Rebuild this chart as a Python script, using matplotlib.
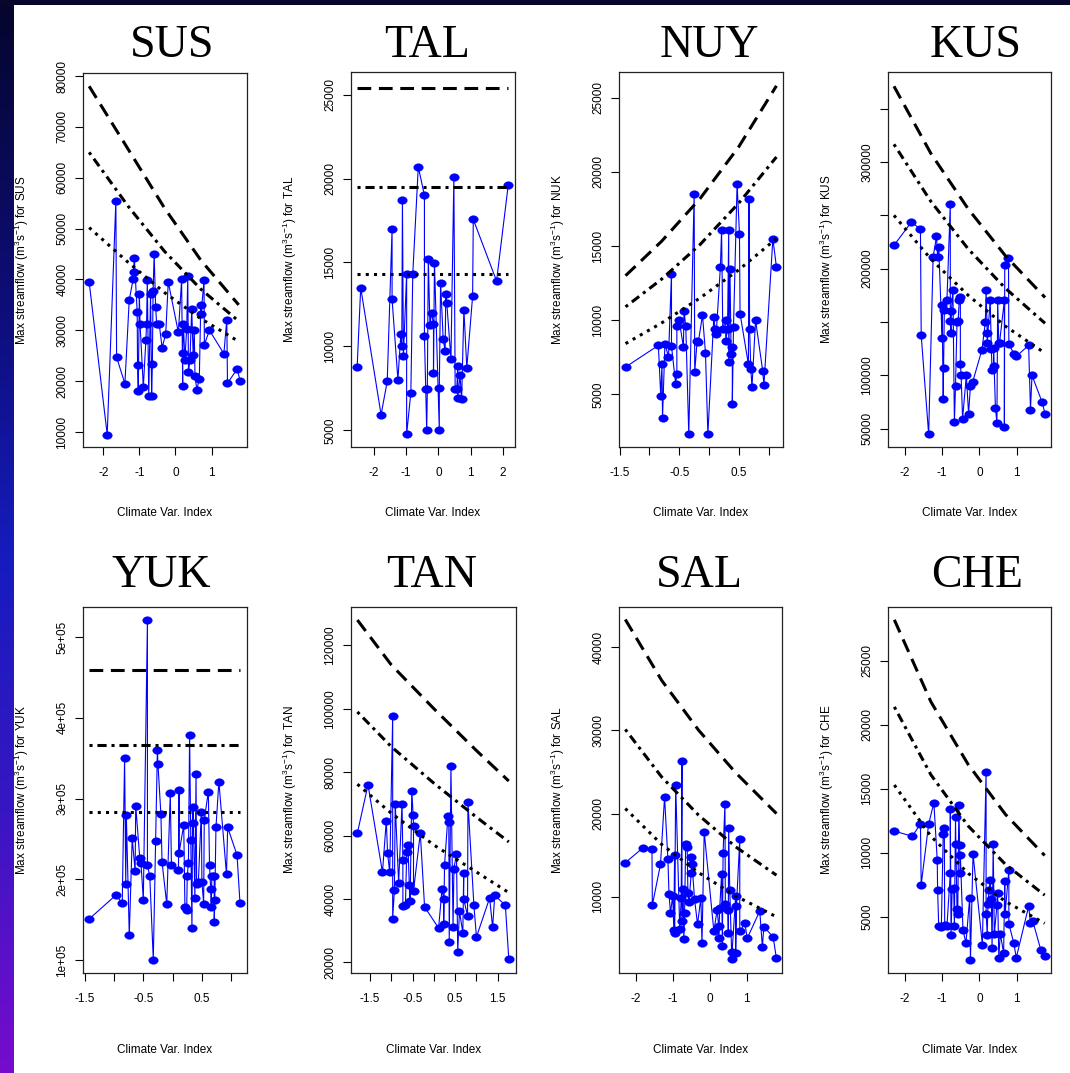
import numpy as np
import matplotlib
matplotlib.use("Agg")
import matplotlib.pyplot as plt
from matplotlib.path import Path
from matplotlib.transforms import Affine2D
from matplotlib.patches import Rectangle

plt.rcParams['font.family'] = ['Liberation Sans', 'DejaVu Sans']
plt.rcParams['mathtext.default'] = 'regular'

# ---------------- data ----------------
sus_x = [-2.39, -1.89, -1.65, -1.63, -1.40, -1.28, -1.17, -1.16, -1.14, -1.06, -1.05, -1.03, -1.00, -0.98,
         -0.89, -0.82, -0.80, -0.78, -0.74, -0.69, -0.66, -0.64, -0.62, -0.59, -0.55, -0.52, -0.45, -0.37,
         -0.27, -0.20, 0.08, 0.17, 0.20, 0.20, 0.22, 0.26, 0.31, 0.34, 0.36, 0.40, 0.45, 0.49, 0.52, 0.54,
         0.59, 0.66, 0.70, 0.71, 0.79, 0.80, 0.94, 1.34, 1.42, 1.44, 1.71, 1.79]
sus_y = [39500, 9500, 55500, 24700, 19500, 36000, 40100, 41400, 44300, 33600, 23100, 18100, 37200, 31200,
         18800, 28000, 31200, 39800, 17000, 37200, 17000, 23400, 37800, 45000, 34600, 31200, 31200, 26600,
         29300, 39500, 29600, 40000, 19000, 25500, 31300, 24100, 30300, 40600, 21800, 24100, 34200, 25100,
         30000, 21100, 18300, 20500, 34900, 33300, 39800, 27200, 30000, 25400, 32100, 19600, 22400, 20000]
sus_cx = [-2.39, -1.3, -0.3, 0.7, 1.75]
sus_dash = [78000, 65500, 54000, 43800, 35000]
sus_dotdash = [65000, 54300, 45500, 38100, 31800]
sus_dot = [50200, 43300, 37400, 32300, 27800]

tal_x = [-2.51, -2.40, -1.77, -1.58, -1.43, -1.43, -1.25, -1.16, -1.13, -1.11, -1.08, -0.98, -0.98, -0.85,
         -0.79, -0.62, -0.43, -0.43, -0.39, -0.36, -0.34, -0.31, -0.26, -0.21, -0.15, -0.15, -0.12, 0.03,
         0.03, 0.07, 0.15, 0.21, 0.23, 0.26, 0.39, 0.48, 0.52, 0.57, 0.60, 0.60, 0.67, 0.72, 0.79, 0.88,
         1.06, 1.08, 1.80, 2.16]
tal_y = [8770, 13500, 5930, 7920, 17020, 12800, 8020, 10720, 10020, 18700, 9430, 14330, 4760, 7240,
         14330, 20700, 19000, 10620, 7480, 5000, 7440, 15230, 11260, 12010, 11360, 8420, 14990, 5000,
         7540, 13800, 10420, 9730, 13100, 12600, 9230, 20090, 7440, 7440, 8830, 6930, 8280, 6850, 12190,
         8730, 13000, 17570, 13900, 19600]
tal_cx = [-2.51, 2.16]
tal_dash = [25400, 25400]
tal_dotdash = [19500, 19500]
tal_dot = [14330, 14330]

nuy_x = [-1.40, -0.85, -0.81, -0.79, -0.78, -0.74, -0.68, -0.63, -0.63, -0.56, -0.54, -0.54, -0.50, -0.43,
         -0.42, -0.39, -0.34, -0.25, -0.24, -0.20, -0.18, -0.11, -0.06, -0.02, 0.08, 0.10, 0.12, 0.19,
         0.21, 0.23, 0.28, 0.28, 0.31, 0.33, 0.33, 0.35, 0.37, 0.39, 0.39, 0.41, 0.47, 0.51, 0.52, 0.66,
         0.67, 0.68, 0.70, 0.72, 0.78, 0.90, 0.92, 1.07, 1.13]
nuy_y = [6840, 8300, 4890, 7020, 3430, 8420, 7520, 13130, 8240, 5720, 6390, 9580, 9990, 8190,
         10620, 9580, 2300, 18530, 6510, 8600, 8530, 10330, 7810, 2300, 10210, 9430, 9090, 13580,
         16050, 9430, 9990, 8600, 9430, 16050, 7180, 13470, 7740, 8190, 4370, 9540, 19200, 15830, 10440, 7020,
         18190, 9430, 6730, 5490, 10000, 6570, 5610, 15490, 13580]
nuy_cx = [-1.40, -0.8, -0.15, 0.5, 1.13]
nuy_dash = [13000, 15300, 18200, 21700, 25800]
nuy_dotdash = [10900, 12750, 15100, 17900, 21000]
nuy_dot = [8420, 9800, 11500, 13400, 15500]

kus_x = [-2.29, -1.82, -1.58, -1.56, -1.36, -1.24, -1.15, -1.12, -1.09, -1.00, -1.00, -0.97, -0.96, -0.94,
         -0.87, -0.78, -0.78, -0.76, -0.75, -0.71, -0.67, -0.64, -0.60, -0.57, -0.54, -0.51, -0.51, -0.49,
         -0.45, -0.35, -0.29, -0.24, -0.18, 0.07, 0.16, 0.18, 0.21, 0.21, 0.29, 0.32, 0.34, 0.38, 0.38,
         0.43, 0.47, 0.49, 0.52, 0.54, 0.67, 0.67, 0.68, 0.78, 0.79, 0.92, 0.99, 1.32, 1.37, 1.41, 1.68, 1.76]
kus_y = [221900, 243800, 236900, 137500, 44700, 210900, 230300, 210900, 220300, 135000, 165600, 78100, 106900, 160900,
         170300, 260300, 150600, 140000, 160300, 180300, 56300, 90000, 150000, 150600, 170300, 173400, 110300, 100000,
         59400, 100000, 64100, 90000, 93800, 124100, 150000, 180300, 140000, 130300, 170300, 125000, 105300, 108800, 125600,
         69700, 55600, 170300, 130300, 130300, 170300, 51600, 203800, 210300, 129700, 120300, 117800, 128100, 67800, 100000,
         75000, 64100]
kus_cx = [-2.29, -1.3, -0.3, 0.7, 1.76]
kus_dash = [371000, 308000, 256000, 212000, 173000]
kus_dotdash = [316600, 263000, 218500, 181500, 148800]
kus_dot = [250000, 209000, 175000, 146000, 120800]

yuk_x = [-1.43, -0.97, -0.86, -0.82, -0.80, -0.79, -0.74, -0.69, -0.64, -0.63, -0.56, -0.54, -0.50, -0.43,
         -0.43, -0.39, -0.33, -0.29, -0.26, -0.25, -0.20, -0.18, -0.10, -0.04, -0.02, 0.10, 0.11, 0.11,
         0.19, 0.21, 0.24, 0.25, 0.27, 0.29, 0.31, 0.33, 0.34, 0.35, 0.38, 0.40, 0.41, 0.44, 0.49, 0.50,
         0.53, 0.54, 0.61, 0.63, 0.65, 0.66, 0.67, 0.71, 0.71, 0.72, 0.74, 0.79, 0.92, 0.94, 1.10, 1.15]
yuk_y = [150800, 180600, 171100, 350000, 195000, 279700, 131000, 250800, 210700, 291300, 226000, 219800, 175200, 520600,
         217800, 204100, 100800, 247900, 360300, 342500, 280600, 221100, 169400, 306600, 217800, 211600, 310700, 233000,
         267400, 166100, 162000, 204500, 219800, 378900, 248700, 140500, 269400, 290100, 177300, 330600, 195000, 197100,
         283900, 197100, 170200, 273500, 308700, 217800, 188800, 166100, 204500, 204500, 147500, 174400, 264500, 321100,
         206200, 264500, 230200, 171100]
yuk_cx = [-1.43, 1.15]
yuk_dash = [459500, 459500]
yuk_dotdash = [366500, 366500]
yuk_dot = [283900, 283900]

tan_x = [-1.80, -1.55, -1.21, -1.12, -1.09, -1.04, -0.97, -0.97, -0.93, -0.91, -0.83, -0.75, -0.73, -0.73,
         -0.67, -0.64, -0.61, -0.58, -0.56, -0.52, -0.49, -0.48, -0.48, -0.32, -0.22, 0.11, 0.19, 0.23,
         0.23, 0.25, 0.33, 0.35, 0.36, 0.40, 0.45, 0.47, 0.53, 0.56, 0.60, 0.68, 0.70, 0.70, 0.79, 0.80,
         0.94, 1.00, 1.31, 1.38, 1.43, 1.68, 1.76]
tan_y = [60800, 76000, 48400, 64700, 54500, 48400, 97800, 33800, 42700, 70100, 45000, 70100, 52400, 37700,
         38000, 54700, 57100, 44500, 39200, 74200, 66600, 63100, 42600, 60800, 37500, 30800, 43100, 40000,
         32100, 50800, 66100, 64200, 26400, 81800, 31000, 49500, 54300, 23300, 36100, 29300, 48200, 40000,
         34700, 70600, 38000, 28000, 40300, 31000, 41100, 38000, 21100]
tan_cx = [-1.80, -1.0, 0.0, 1.0, 1.76]
tan_dash = [128000, 113800, 100000, 86800, 77200]
tan_dotdash = [99000, 88000, 76500, 65800, 58000]
tan_dot = [76200, 67000, 57000, 48500, 42000]

sal_x = [-2.28, -1.80, -1.56, -1.55, -1.33, -1.22, -1.13, -1.10, -1.06, -1.00, -0.97, -0.95, -0.95, -0.92,
         -0.81, -0.77, -0.75, -0.75, -0.72, -0.70, -0.68, -0.65, -0.61, -0.59, -0.56, -0.50, -0.50, -0.48,
         -0.41, -0.33, -0.24, -0.21, -0.15, 0.11, 0.20, 0.24, 0.24, 0.27, 0.32, 0.34, 0.36, 0.41, 0.42,
         0.49, 0.50, 0.51, 0.54, 0.59, 0.59, 0.70, 0.70, 0.72, 0.81, 0.81, 0.95, 1.01, 1.35, 1.42, 1.46,
         1.71, 1.80]
sal_y = [14100, 15900, 15700, 9000, 13900, 22000, 14500, 10300, 8100, 10100, 6000, 15000, 5700, 23400,
         6100, 9900, 26300, 7100, 10900, 4900, 8000, 16400, 16000, 10500, 9400, 12900, 14800, 14000,
         9700, 6700, 9900, 4400, 17800, 5900, 8400, 6500, 5000, 8700, 12800, 4100, 15300, 21200, 9100,
         8400, 5700, 18300, 10800, 3400, 2500, 10100, 3300, 8900, 16900, 5900, 6800, 5000, 8300, 4000, 6400,
         5200, 2600]
sal_cx = [-2.28, -1.3, -0.3, 0.7, 1.80]
sal_dash = [43300, 36000, 30000, 24900, 20000]
sal_dotdash = [30100, 24400, 19800, 16000, 12600]
sal_dot = [20600, 16300, 12900, 10100, 7600]

che_x = [-2.28, -1.80, -1.58, -1.56, -1.36, -1.22, -1.13, -1.12, -1.09, -1.02, -0.97, -0.94, -0.93, -0.87,
         -0.78, -0.78, -0.76, -0.73, -0.69, -0.67, -0.64, -0.63, -0.60, -0.58, -0.55, -0.53, -0.51, -0.51,
         -0.44, -0.36, -0.26, -0.24, -0.17, 0.08, 0.18, 0.18, 0.21, 0.23, 0.26, 0.29, 0.32, 0.34, 0.37,
         0.40, 0.47, 0.49, 0.52, 0.56, 0.65, 0.68, 0.69, 0.79, 0.79, 0.92, 0.99, 1.32, 1.37, 1.43, 1.65, 1.75]
che_y = [11700, 11300, 12250, 7530, 12250, 13920, 9430, 7090, 4270, 4220, 11440, 11960, 4400, 4270,
         8390, 13400, 3570, 7160, 7270, 4270, 12770, 10660, 5600, 5260, 13740, 10600, 8390, 9820,
         3960, 2970, 6510, 1660, 9900, 2830, 16340, 5260, 3620, 5990, 7090, 7870, 6430, 2570, 10660,
         3640, 5910, 6830, 1790, 3700, 2180, 7820, 5260, 8650, 4480, 2970, 1820, 5830, 4560, 4690, 2390, 1920]
che_cx = [-2.28, -1.3, -0.3, 0.7, 1.75]
che_dash = [28200, 21800, 16900, 13000, 9800]
che_dotdash = [21400, 16100, 12100, 9100, 6700]
che_dot = [15300, 11300, 8400, 6200, 4500]

titles = ["SUS", "TAL", "NUY", "KUS", "YUK", "TAN", "SAL", "CHE"]
ylab_names = ["SUS", "TAL", "NUK", "KUS", "YUK", "TAN", "SAL", "CHE"]

# ---------------- figure ----------------
W, H = 1070, 1073
fig = plt.figure(figsize=(W / 100, H / 100), dpi=100)
fig.patch.set_facecolor('white')

# slide decoration: left gradient band and top band
gax = fig.add_axes([0, 0, 14 / W, 1])
stops_y = np.array([0.0, 0.3, 0.52, 0.75, 1.0])
stops_c = np.array([[5, 5, 45], [14, 14, 125], [22, 28, 190], [55, 22, 195], [118, 12, 205]]) / 255.0
yy = np.linspace(0, 1, 400)
grad = np.stack([np.interp(yy, stops_y, stops_c[:, k]) for k in range(3)], axis=1)[:, None, :]
gax.imshow(grad, aspect='auto', extent=[0, 1, 1, 0])
gax.set_axis_off()
fig.add_artist(Rectangle((0, 1 - 5 / H), 1, 5 / H, transform=fig.transFigure,
                         facecolor='#07072c', edgecolor='none'))

ell = Path.unit_circle().transformed(Affine2D().scale(1.0, 0.8))
LW = 2.2
dash_ls = (0, (4.5, 2.5))
dotdash_ls = (0, (1.0, 1.6, 3.0, 1.6))
dot_ls = (0, (1.0, 1.7))

panels = [
    dict(x=sus_x, y=sus_y, cx=sus_cx, d=sus_dash, dd=sus_dotdash, dt=sus_dot,
         xlim=(-2.56, 1.98), ylim=(7050, 80600),
         xt=[-2, -1, 0, 1], xtl=['-2', '-1', '0', '1'],
         yt=[10000, 20000, 30000, 40000, 50000, 60000, 70000, 80000],
         ytl=['10000', '20000', '30000', '40000', '50000', '60000', '70000', '80000'],
         box=(83, 247, 73, 447), tx=172, ty=57),
    dict(x=tal_x, y=tal_y, cx=tal_cx, d=tal_dash, dd=tal_dotdash, dt=tal_dot,
         xlim=(-2.70, 2.37), ylim=(4007, 26350),
         xt=[-2, -1, 0, 1, 2], xtl=['-2', '-1', '0', '1', '2'],
         yt=[5000, 10000, 15000, 20000, 25000], ytl=['5000', '10000', '15000', '20000', '25000'],
         box=(351, 515, 72, 447), tx=427, ty=57),
    dict(x=nuy_x, y=nuy_y, cx=nuy_cx, d=nuy_dash, dd=nuy_dotdash, dt=nuy_dot,
         xlim=(-1.51, 1.24), ylim=(1450, 26730),
         xt=[-1.5, -1.0, -0.5, 0.0, 0.5, 1.0], xtl=['-1.5', '', '-0.5', '', '0.5', ''],
         yt=[5000, 10000, 15000, 20000, 25000], ytl=['5000', '10000', '15000', '20000', '25000'],
         box=(619, 783, 72, 447), tx=709, ty=57),
    dict(x=kus_x, y=kus_y, cx=kus_cx, d=kus_dash, dd=kus_dotdash, dt=kus_dot,
         xlim=(-2.45, 1.92), ylim=(32800, 384400),
         xt=[-2, -1, 0, 1], xtl=['-2', '-1', '0', '1'],
         yt=[50000, 100000, 150000, 200000, 250000, 300000, 350000],
         ytl=['50000', '100000', '', '200000', '', '300000', ''],
         box=(888, 1051, 72, 447), tx=976, ty=57),
    dict(x=yuk_x, y=yuk_y, cx=yuk_cx, d=yuk_dash, dd=yuk_dotdash, dt=yuk_dot,
         xlim=(-1.53, 1.27), ylim=(84300, 537200),
         xt=[-1.5, -1.0, -0.5, 0.0, 0.5, 1.0], xtl=['-1.5', '', '-0.5', '', '0.5', ''],
         yt=[100000, 200000, 300000, 400000, 500000],
         ytl=['1e+05', '2e+05', '3e+05', '4e+05', '5e+05'],
         box=(83, 247, 607, 973), tx=161, ty=587),
    dict(x=tan_x, y=tan_y, cx=tan_cx, d=tan_dash, dd=tan_dotdash, dt=tan_dot,
         xlim=(-1.95, 1.93), ylim=(16640, 132100),
         xt=[-1.5, -1.0, -0.5, 0.0, 0.5, 1.0, 1.5], xtl=['-1.5', '', '-0.5', '', '0.5', '', '1.5'],
         yt=[20000, 40000, 60000, 80000, 100000, 120000],
         ytl=['20000', '40000', '60000', '80000', '100000', '120000'],
         box=(351, 516, 607, 973), tx=432, ty=587),
    dict(x=sal_x, y=sal_y, cx=sal_cx, d=sal_dash, dd=sal_dotdash, dt=sal_dot,
         xlim=(-2.45, 1.95), ylim=(854, 44800),
         xt=[-2, -1, 0, 1], xtl=['-2', '-1', '0', '1'],
         yt=[10000, 20000, 30000, 40000], ytl=['10000', '20000', '30000', '40000'],
         box=(619, 782, 607, 973), tx=699, ty=587),
    dict(x=che_x, y=che_y, cx=che_cx, d=che_dash, dd=che_dotdash, dt=che_dot,
         xlim=(-2.45, 1.92), ylim=(620, 29200),
         xt=[-2, -1, 0, 1], xtl=['-2', '-1', '0', '1'],
         yt=[5000, 10000, 15000, 20000, 25000], ytl=['5000', '10000', '15000', '20000', '25000'],
         box=(888, 1051, 607, 973), tx=977, ty=587),
]

TICKFS = 8.5
for i, p in enumerate(panels):
    l, r, t, b = p['box']
    ax = fig.add_axes([l / W, 1 - b / H, (r - l) / W, (b - t) / H])
    ax.plot(p['x'], p['y'], color='#0000ff', lw=0.8, zorder=2)
    ax.plot(p['x'], p['y'], linestyle='none', marker=ell, markersize=7.0,
            markerfacecolor='#0000ff', markeredgecolor='#0000ff', markeredgewidth=0.2, zorder=3)
    ax.plot(p['cx'], p['d'], color='black', lw=LW, linestyle=dash_ls, zorder=4)
    ax.plot(p['cx'], p['dd'], color='black', lw=LW, linestyle=dotdash_ls, zorder=4)
    ax.plot(p['cx'], p['dt'], color='black', lw=LW, linestyle=dot_ls, zorder=4)
    ax.set_xlim(*p['xlim'])
    ax.set_ylim(*p['ylim'])
    ax.set_xticks(p['xt'])
    ax.set_xticklabels(p['xtl'], fontsize=TICKFS)
    ax.set_yticks(p['yt'])
    ax.set_yticklabels(p['ytl'], fontsize=TICKFS, rotation=90, va='center')
    ax.tick_params(axis='both', direction='out', length=5.5, width=0.8, color='black')
    ax.tick_params(axis='x', pad=9)
    ax.tick_params(axis='y', pad=5)
    for s in ax.spines.values():
        s.set_linewidth(0.9)
        s.set_color('#222222')
    ax.set_ylabel('Max streamflow (m$^{3}$s$^{-1}$) for ' + ylab_names[i], fontsize=TICKFS)
    ax.yaxis.label.set_va('center')
    ax.yaxis.set_label_coords(-61.0 / (r - l), 0.5)
    ax.set_xlabel('Climate Var. Index', fontsize=TICKFS)
    ax.xaxis.label.set_va('center')
    xl_y = 513 if i < 4 else 1050
    ax.xaxis.set_label_coords(0.5, -(xl_y - b) / (b - t))
    fig.text(p['tx'] / W, 1 - p['ty'] / H, titles[i], ha='center', va='baseline',
             fontsize=33, family=['Liberation Serif', 'DejaVu Serif'])

fig.savefig('out.png', dpi=100, facecolor=fig.get_facecolor())
